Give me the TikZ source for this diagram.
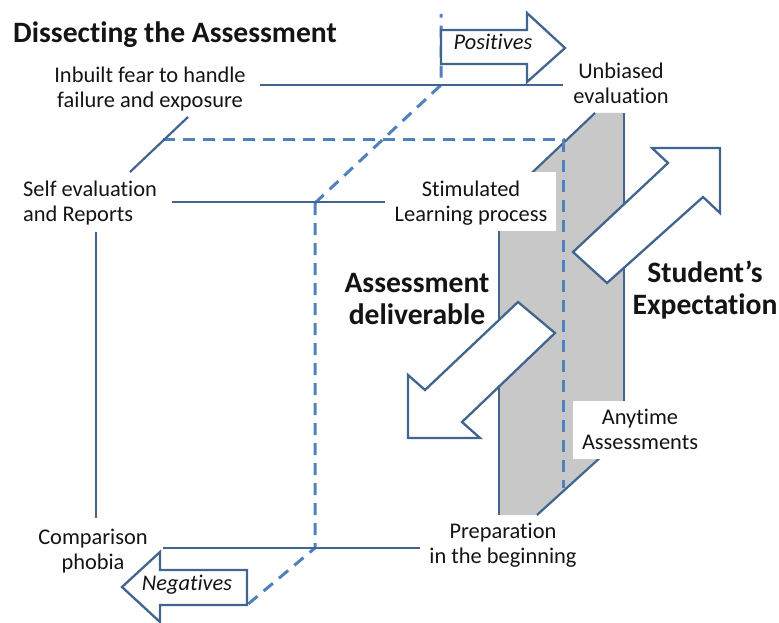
\documentclass[tikz,border=0pt]{standalone}
\usepackage{fontspec}
\setmainfont{Carlito}[Ligatures=NoCommon]
\definecolor{lineblue}{HTML}{41658F}
\definecolor{dashblue}{HTML}{4F81BD}
\definecolor{panelgrey}{HTML}{C8C8C8}
\begin{document}
\begin{tikzpicture}[x=1pt,y=-1pt,
  solidline/.style={draw=lineblue, line width=2.2pt},
  dashline/.style={draw=dashblue, line width=3pt, dash pattern=on 12pt off 8pt},
  arrowshape/.style={draw=lineblue, line width=2.3pt, fill=white, line join=miter},
  lbl/.style={font=\fontsize{22.4}{25}\selectfont, align=center, inner sep=0pt, text=black!92},
  biglbl/.style={font=\fontsize{29.6}{32}\selectfont\bfseries, align=center, inner sep=0pt, text=black!92},
  whitebox/.style={fill=white, draw=none}]
\useasboundingbox (0,0) rectangle (779,623);

% ---- key points
\coordinate (pTL) at (499,204);
\coordinate (pTR1) at (595,113);
\coordinate (pTR2) at (624,113);
\coordinate (pBR) at (624,436);
\coordinate (pB1) at (537,515);
\coordinate (pBL) at (499,515);

\coordinate (c1) at (163,140);
\coordinate (c2) at (563,140);
\coordinate (c3) at (563,488);
\coordinate (c4) at (315,203);
\coordinate (c5) at (441,85);
\coordinate (c6) at (441,14);
\coordinate (c7) at (315,548);
\coordinate (c8) at (247,605);

\coordinate (s1a) at (130,172);
\coordinate (s1b) at (188,117);
\coordinate (s2a) at (260,85);
\coordinate (s2b) at (563,85);
\coordinate (s3a) at (172,202);
\coordinate (s3b) at (395,202);
\coordinate (s4a) at (96,232);
\coordinate (s4b) at (96,518);
\coordinate (s5a) at (163,548);
\coordinate (s5b) at (420,548);

% ---- grey panel
\fill[panelgrey] (pTL) -- (pTR1) -- (pTR2) -- (pBR) -- (pB1) -- (pBL) -- cycle;
\draw[solidline] (pTL) -- (pTR1);
\draw[solidline] (pTR2) -- (pBR);
\draw[solidline] (pB1) -- (pBR);
\draw[solidline] (pTL) -- (pBL);

% ---- dashed cube edges
\draw[dashline] (c1) -- (c2) -- (c3);
\draw[dashline] (c4) -- (c5) -- (c6);
\draw[dashline] (c4) -- (c7) -- (c8);

% ---- solid lines
\draw[solidline] (s1a) -- (s1b);
\draw[solidline] (s2a) -- (s2b);
\draw[solidline] (s3a) -- (s3b);
\draw[solidline] (s4a) -- (s4b);
\draw[solidline] (s5a) -- (s5b);

% ---- white label boxes
\fill[whitebox] (385,172) rectangle (556,231);
\fill[whitebox] (573,401) rectangle (705,459);

% ---- big diagonal arrows
\draw[arrowshape] (720,148) -- (720,213) -- (703,197) -- (607,283) -- (573,252) -- (668,163) -- (652,148) -- cycle;
\draw[arrowshape] (408,438) -- (408,375) -- (425,390) -- (518,302) -- (555,333) -- (462,422) -- (480,438) -- cycle;

% ---- positives / negatives arrows
\draw[arrowshape] (441,30) -- (527,30) -- (527,13) -- (565,48) -- (527,82) -- (527,64) -- (441,64) -- cycle;
\draw[arrowshape] (247,570) -- (160,570) -- (160,552) -- (122,587) -- (160,622) -- (160,605) -- (247,605) -- cycle;

% ---- texts
\node[anchor=base west, inner sep=0pt, font=\fontsize{29.6}{32}\selectfont\bfseries, text=black!92] (title) at (13,43) {Dissecting the Assessment};
\node[lbl] (inbuilt) at (150,89) {Inbuilt fear to handle\\failure and exposure};
\node[lbl] (unbiased) at (621,83) {Unbiased\\evaluation};
\node[lbl, anchor=west, align=left] (selfeval) at (23,203) {Self evaluation\\and Reports};
\node[lbl] (stim) at (471,203) {Stimulated\\Learning process};
\node[biglbl] (deliv) at (417,299) {Assessment\\deliverable};
\node[biglbl] (expect) at (705,290) {Student’s\\Expectation};
\node[lbl] (anytime) at (640,429) {Anytime\\Assessments};
\node[lbl] (prep) at (503,545) {Preparation\\in the beginning};
\node[lbl] (compar) at (93,551) {Comparison\\phobia};
\node[lbl, anchor=base, font=\fontsize{22.4}{25}\selectfont\itshape] (pos) at (493,50) {Positives};
\node[lbl, anchor=base, font=\fontsize{22.4}{25}\selectfont\itshape] (neg) at (187,590) {Negatives};
\end{tikzpicture}
\end{document}
